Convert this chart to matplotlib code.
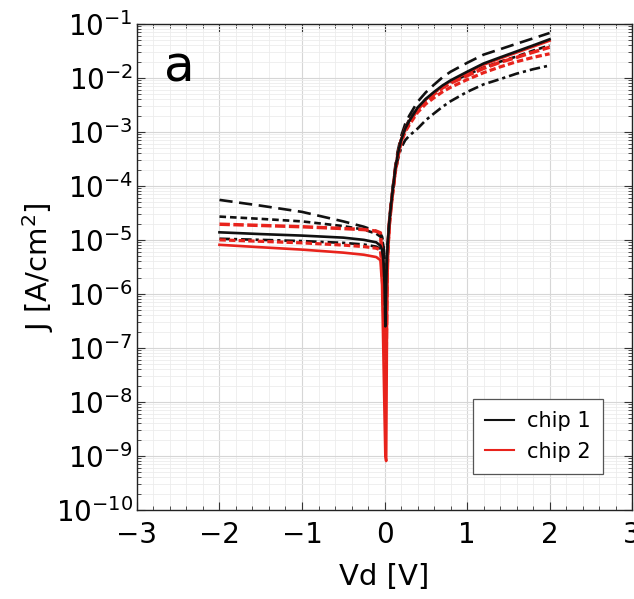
import matplotlib
matplotlib.use("Agg")
import matplotlib.pyplot as plt
from matplotlib.ticker import LogLocator, MultipleLocator, NullFormatter

plt.rcParams['font.family'] = ['DejaVu Sans']

# Applied bias (V), shared by every sweep
vd = [-2.0, -1.5, -1.0, -0.5, -0.25, -0.1, -0.05, -0.03, -0.015, 0.0, 0.01,
      0.02, 0.03, 0.04, 0.06, 0.08, 0.1, 0.13, 0.16, 0.2, 0.25, 0.3, 0.4,
      0.5, 0.6, 0.7, 0.8, 1.0, 1.2, 1.4, 1.6, 1.8, 2.0]

# Current density |J| (A/cm^2), chip 1 devices
chip1_solid = [1.38e-5, 1.28e-5, 1.2e-5, 1.1e-5, 1.0e-5, 9.0e-6, 7.8e-6, 6.5e-6,
               4.5e-6, 1.5e-6, 2.5e-7, 1.5e-6, 4.5e-6, 9e-6, 2.3e-5, 4.6e-5,
               8.5e-5, 2e-4, 3.8e-4, 7e-4, 1.15e-3, 1.6e-3, 2.8e-3,
               4.1e-3, 5.5e-3, 7.2e-3, 9e-3, 1.3e-2, 1.85e-2, 2.4e-2, 3.1e-2,
               4.0e-2, 5.2e-2]
chip1_longdash = [5.5e-5, 4.3e-5, 3.3e-5, 2.2e-5, 1.75e-5, 1.45e-5, 1.3e-5, 1.15e-5,
                  9e-6, 4e-6, 1.2e-6, 2.5e-6, 5.5e-6, 1.0e-5, 2.5e-5, 5e-5,
                  9.5e-5, 2.3e-4, 4.4e-4, 8.2e-4, 1.4e-3, 2.0e-3, 3.6e-3,
                  5.4e-3, 7.5e-3, 1.02e-2, 1.3e-2, 1.9e-2, 2.7e-2, 3.4e-2, 4.3e-2,
                  5.4e-2, 6.8e-2]
chip1_shortdash = [2.7e-5, 2.45e-5, 2.2e-5, 1.8e-5, 1.55e-5, 1.3e-5, 1.15e-5, 1.0e-5,
                   8e-6, 3e-6, 8e-7, 2e-6, 5e-6, 9.5e-6, 2.4e-5, 4.8e-5,
                   9e-5, 2.1e-4, 4e-4, 7.3e-4, 1.2e-3, 1.7e-3, 2.8e-3,
                   4.0e-3, 5.3e-3, 6.8e-3, 8.3e-3, 1.15e-2, 1.55e-2, 2.0e-2, 2.5e-2,
                   3.2e-2, 4.0e-2]
chip1_dashdot = [1.05e-5, 1.0e-5, 9.5e-6, 8.8e-6, 8.2e-6, 7.5e-6, 6.8e-6, 5.8e-6,
                 4e-6, 1.5e-6, 5e-7, 1.5e-6, 4e-6, 8e-6, 2e-5, 4e-5,
                 7.5e-5, 1.7e-4, 3e-4, 5e-4, 7e-4, 8.5e-4, 1.15e-3,
                 1.65e-3, 2.2e-3, 2.9e-3, 3.7e-3, 5.5e-3, 7.6e-3, 9.5e-3, 1.2e-2,
                 1.45e-2, 1.7e-2]

# Current density |J| (A/cm^2), chip 2 devices
chip2_solid = [8.1e-6, 7.3e-6, 6.6e-6, 5.8e-6, 5.3e-6, 4.8e-6, 4.2e-6, 1.5e-6,
               1e-7, 6e-9, 1e-9, 8e-10, 3e-7, 5e-6, 2.1e-5, 4.4e-5,
               8.2e-5, 1.95e-4, 3.7e-4, 7e-4, 1.15e-3, 1.6e-3, 2.7e-3,
               4.0e-3, 5.3e-3, 7.0e-3, 8.7e-3, 1.25e-2, 1.75e-2, 2.3e-2, 2.95e-2,
               3.8e-2, 4.9e-2]
chip2_dashed = [1.95e-5, 1.85e-5, 1.75e-5, 1.62e-5, 1.55e-5, 1.45e-5, 1.35e-5, 5e-6,
                8e-7, 1.5e-7, 2e-8, 6e-8, 1.5e-6, 7e-6, 2.2e-5, 4.5e-5,
                8e-5, 1.9e-4, 3.6e-4, 6.8e-4, 1.1e-3, 1.5e-3, 2.6e-3,
                3.8e-3, 5e-3, 6.5e-3, 8e-3, 1.1e-2, 1.5e-2, 1.95e-2, 2.4e-2,
                3.0e-2, 3.7e-2]
chip2_dotted = [1.0e-5, 9.4e-6, 8.8e-6, 8.0e-6, 7.5e-6, 7.0e-6, 6.5e-6, 3e-6,
                6e-7, 1.5e-7, 1e-7, 4e-7, 2e-6, 6e-6, 1.9e-5, 4e-5,
                7.5e-5, 1.75e-4, 3.3e-4, 6.2e-4, 1e-3, 1.35e-3, 2.3e-3,
                3.3e-3, 4.3e-3, 5.5e-3, 6.7e-3, 9.3e-3, 1.25e-2, 1.6e-2, 2.0e-2,
                2.4e-2, 2.8e-2]

fig = plt.figure(figsize=(6.34, 5.99), dpi=100)
ax = fig.add_axes([0.216, 0.149, 0.781, 0.811])

black = '#111111'
red = '#e8231c'
lw = 1.9

ax.plot(vd, chip1_longdash, color=black, lw=lw, ls=(0, (5, 2.5)))
ax.plot(vd, chip1_shortdash, color=black, lw=lw, ls=(0, (2.5, 1.5)))
ax.plot(vd, chip1_dashdot, color=black, lw=lw, ls=(0, (4, 1.5, 1.2, 1.5)))
ax.plot(vd, chip2_dashed, color=red, lw=lw + 0.6, ls=(0, (3, 1)))
ax.plot(vd, chip2_dotted, color=red, lw=lw + 0.4, ls=(0, (2, 1)))
ax.plot(vd, chip2_solid, color=red, lw=lw)
ax.plot(vd, chip1_solid, color=black, lw=lw)

ax.set_yscale('log')
ax.set_xlim(-3, 3)
ax.set_ylim(1e-10, 1e-1)

ax.xaxis.set_major_locator(MultipleLocator(1))
ax.xaxis.set_minor_locator(MultipleLocator(0.2))
ax.yaxis.set_major_locator(LogLocator(base=10, numticks=20))
ax.yaxis.set_minor_locator(LogLocator(base=10, subs=range(2, 10), numticks=20))
ax.yaxis.set_minor_formatter(NullFormatter())

ax.grid(True, which='major', color='#d6d6d6', lw=0.8)
ax.grid(True, which='minor', color='#ececec', lw=0.6)
ax.set_axisbelow(True)

ax.tick_params(which='both', direction='in', top=True, right=True, color='#333333')
ax.tick_params(which='major', length=6, width=0.8)
ax.tick_params(which='minor', length=3, width=0.6)
ax.tick_params(axis='x', labelsize=20, pad=8)
ax.tick_params(axis='y', labelsize=20, pad=3)
for s in ax.spines.values():
    s.set_linewidth(1.0)
    s.set_color('#222222')

ax.set_xlabel('Vd [V]', fontsize=21, labelpad=10)
ax.set_ylabel('J [A/cm$^2$]', fontsize=21, labelpad=0)

ax.text(0.055, 0.882, 'a', transform=ax.transAxes, fontsize=36, va='baseline', ha='left')

h1, = ax.plot([], [], color=black, lw=1.5)
h2, = ax.plot([], [], color=red, lw=1.5)
leg = ax.legend([h1, h2], ['chip 1', 'chip 2'], loc='lower right',
                bbox_to_anchor=(0.962, 0.052), fontsize=15, fancybox=False,
                framealpha=1, edgecolor='#555555', handlelength=1.4,
                handletextpad=0.6, borderpad=0.6, labelspacing=0.5)
leg.get_frame().set_linewidth(0.9)

fig.savefig('out.png', dpi=100)
